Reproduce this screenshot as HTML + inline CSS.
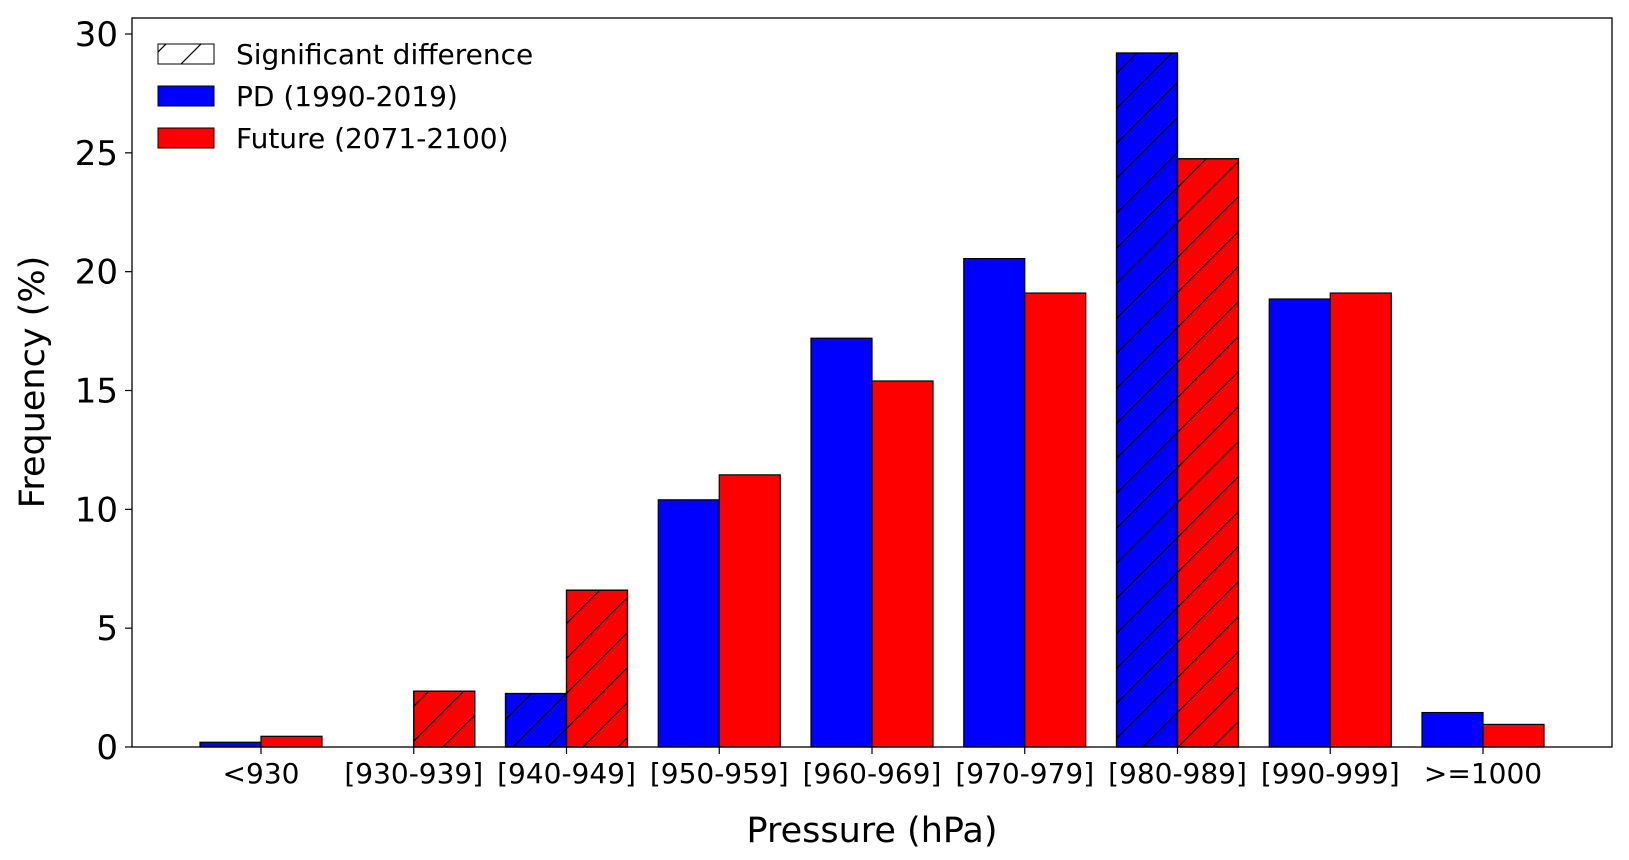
<!DOCTYPE html>
<html><head><meta charset="utf-8"><style>
html,body{margin:0;padding:0;background:#fff;}
svg{display:block;font-family:"DejaVu Sans","Liberation Sans",sans-serif;}
</style></head><body>
<svg id="chart" width="1629" height="860">
<defs>
<pattern id="hatch" patternUnits="userSpaceOnUse" width="35" height="35">
<path d="M0,35 L35,0 M-10,10 L10,-10 M25,45 L45,25" stroke="#000" stroke-width="1.2"/>
</pattern>
</defs>
<g id="bars"></g>
<rect x="132" y="18" width="1480" height="729" fill="none" stroke="#000" stroke-width="1.3"/>
<g id="yticks"></g>
<g id="xticks"></g>
<text x="872" y="842" font-size="35" text-anchor="middle">Pressure (hPa)</text>
<text transform="translate(44,382) rotate(-90)" font-size="35" text-anchor="middle">Frequency (%)</text>
<g>
<g>
<rect x="158" y="44" width="56" height="20" fill="#fff" stroke="#000"/>
<rect x="158" y="44" width="56" height="20" fill="url(#hatch)" stroke="#000"/>
<text x="236" y="64" font-size="28">Significant difference</text></g>
<g>
<rect x="158" y="86" width="56" height="20" fill="#0000ff" stroke="#000"/>
<text x="236" y="106" font-size="28">PD (1990-2019)</text></g>
<g>
<rect x="158" y="128" width="56" height="20" fill="#ff0000" stroke="#000"/>
<text x="236" y="148" font-size="28">Future (2071-2100)</text></g>
</g>
</svg>
<script>
const categories = ["<930","[930-939]","[940-949]","[950-959]","[960-969]","[970-979]","[980-989]","[990-999]",">=1000"];
const pdValues = [0.2, 0, 2.25, 10.4, 17.2, 20.55, 29.2, 18.85, 1.45];
const futureValues = [0.45, 2.35, 6.6, 11.45, 15.4, 19.1, 24.75, 19.1, 0.95];
const pdSignificant = [false,false,true,false,false,false,true,false,false];
const futureSignificant = [false,true,true,false,false,false,true,false,false];
const yTickValues = [0,5,10,15,20,25,30];

const NS="http://www.w3.org/2000/svg";
const x0=261, step=152.75, barW=61;
function xPos(i){return x0+i*step;}
function yPos(v){return 747-v*(747-34)/30;}
const bars=document.getElementById('bars');
function mk(tag,attrs,parent){const e=document.createElementNS(NS,tag);for(const k in attrs)e.setAttribute(k,attrs[k]);parent.appendChild(e);return e;}
function drawBar(i,v,left,color,hatched,name){
  const x=left?xPos(i)-barW:xPos(i), y=yPos(v), h=747-y;
  const r=mk('rect',{x:x,y:y,width:barW,height:h,fill:color,stroke:'#000','stroke-width':1.2},bars);
  
  
  if(hatched){const hr=mk('rect',{x:x,y:y,width:barW,height:h,fill:'url(#hatch)',stroke:'#000','stroke-width':1.2},bars);
    
    }
}
categories.forEach((c,i)=>{
  drawBar(i,pdValues[i],true,'#0000ff',pdSignificant[i],'bar-pd-'+i);
  drawBar(i,futureValues[i],false,'#ff0000',futureSignificant[i],'bar-future-'+i);
});
const yt=document.getElementById('yticks');
yTickValues.forEach(v=>{
  const y=yPos(v);
  mk('line',{x1:125,x2:132,y1:y,y2:y,stroke:'#000','stroke-width':1.2},yt);
  const t=mk('text',{x:118,y:y+12,'font-size':34,'text-anchor':'end'},yt);
  t.textContent=v;
  
  
});
const xt=document.getElementById('xticks');
categories.forEach((c,i)=>{
  const x=xPos(i);
  mk('line',{x1:x,x2:x,y1:747,y2:754,stroke:'#000','stroke-width':1.2},xt);
  const t=mk('text',{x:x,y:783,'font-size':28,'text-anchor':'middle'},xt);
  t.textContent=c;
  
  
});
</script>
</body></html>
